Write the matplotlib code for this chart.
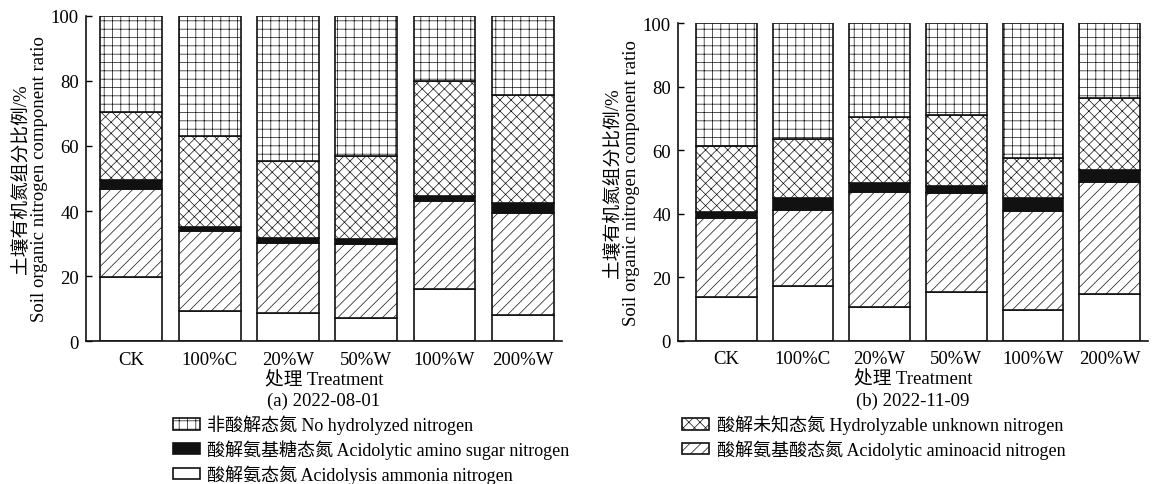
import matplotlib
matplotlib.use("Agg")
import matplotlib.pyplot as plt
from matplotlib.patches import Patch
import numpy as np

plt.rcParams['font.family'] = ['Liberation Serif', 'Noto Sans CJK SC']
plt.rcParams['hatch.linewidth'] = 0.5
plt.rcParams['axes.unicode_minus'] = False

treatments = ["CK", "100%C", "20%W", "50%W", "100%W", "200%W"]

# Panel (a) 2022-08-01, component shares (%)
a_ammonia = [19.7, 9.3, 8.6, 7.1, 16.0, 8.0]
a_aminoacid = [27.1, 24.6, 21.6, 22.7, 27.2, 31.3]
a_sugar = [2.7, 1.2, 1.4, 1.6, 1.4, 3.2]
a_unknown = [20.9, 28.0, 23.8, 25.6, 35.3, 33.3]
a_nohydro = [29.6, 36.9, 44.6, 43.0, 20.1, 24.2]

# Panel (b) 2022-11-09
b_ammonia = [13.7, 17.3, 10.5, 15.4, 9.7, 14.7]
b_aminoacid = [25.0, 23.9, 36.4, 31.0, 31.3, 35.4]
b_sugar = [1.9, 3.8, 2.7, 2.4, 4.0, 3.8]
b_unknown = [20.8, 18.5, 21.0, 22.4, 12.7, 22.5]
b_nohydro = [38.6, 36.5, 29.4, 28.8, 42.3, 23.6]

series_names = [
    "酸解氨态氮 Acidolysis ammonia nitrogen",
    "酸解氨基酸态氮 Acidolytic aminoacid nitrogen",
    "酸解氨基糖态氮 Acidolytic amino sugar nitrogen",
    "酸解未知态氮 Hydrolyzable unknown nitrogen",
    "非酸解态氮 No hydrolyzed nitrogen",
]
styles = [
    dict(facecolor="white", hatch=None),
    dict(facecolor="white", hatch="///"),
    dict(facecolor="#111111", hatch=None),
    dict(facecolor="white", hatch="xxx"),
    dict(facecolor="white", hatch="++"),
]

FS = 13.5
LFS = 13

fig = plt.figure(figsize=(11.54, 4.85), dpi=100)
ax1 = fig.add_axes([0.0745, 0.2948, 0.4125, 0.6702])
ax2 = fig.add_axes([0.5875, 0.2955, 0.4073, 0.6545])

x = np.arange(len(treatments))
width = 0.79

def draw(ax, data, sub, xl):
    bottom = np.zeros(len(treatments))
    for vals, st in zip(data, styles):
        ax.bar(x, vals, width, bottom=bottom, facecolor=st["facecolor"],
               hatch=st["hatch"], edgecolor="#111111", linewidth=1.2)
        bottom += np.array(vals)
    ax.set_ylim(0, 100)
    ax.set_xlim(*xl)
    ax.set_yticks([0, 20, 40, 60, 80, 100])
    ax.set_xticks(x)
    ax.set_xticklabels(treatments, fontsize=FS)
    ax.tick_params(axis='y', direction='in', length=4, labelsize=FS, width=1, pad=5)
    ax.tick_params(axis='x', length=0, pad=7)
    for s in ["top", "right"]:
        ax.spines[s].set_visible(False)
    for s in ["left", "bottom"]:
        ax.spines[s].set_linewidth(1.2)
        ax.spines[s].set_color("#111111")
    ax.set_ylabel("土壤有机氮组分比例/%\nSoil organic nitrogen component ratio",
                  fontsize=FS, linespacing=1.1, labelpad=2)
    ax.set_xlabel("处理 Treatment\n" + sub, fontsize=FS, linespacing=1.3, labelpad=2)

draw(ax1, [a_ammonia, a_aminoacid, a_sugar, a_unknown, a_nohydro], "(a) 2022-08-01", (-0.58, 5.5))
draw(ax2, [b_ammonia, b_aminoacid, b_sugar, b_unknown, b_nohydro], "(b) 2022-11-09", (-0.63, 5.5))

def handle(i):
    st = styles[i]
    return Patch(facecolor=st["facecolor"], hatch=st["hatch"], edgecolor="#111111", linewidth=1.2)

leg_kw = dict(loc="upper left", frameon=False, fontsize=LFS,
              handlelength=1.5, handleheight=0.58, handletextpad=0.42, labelspacing=0.28,
              borderaxespad=0, borderpad=0)
fig.legend([handle(4), handle(2), handle(0)], [series_names[4], series_names[2], series_names[0]],
           bbox_to_anchor=(0.1495, 0.143), **leg_kw)
fig.legend([handle(3), handle(1)], [series_names[3], series_names[1]],
           bbox_to_anchor=(0.591, 0.143), **leg_kw)

fig.savefig("out.png", dpi=100)
